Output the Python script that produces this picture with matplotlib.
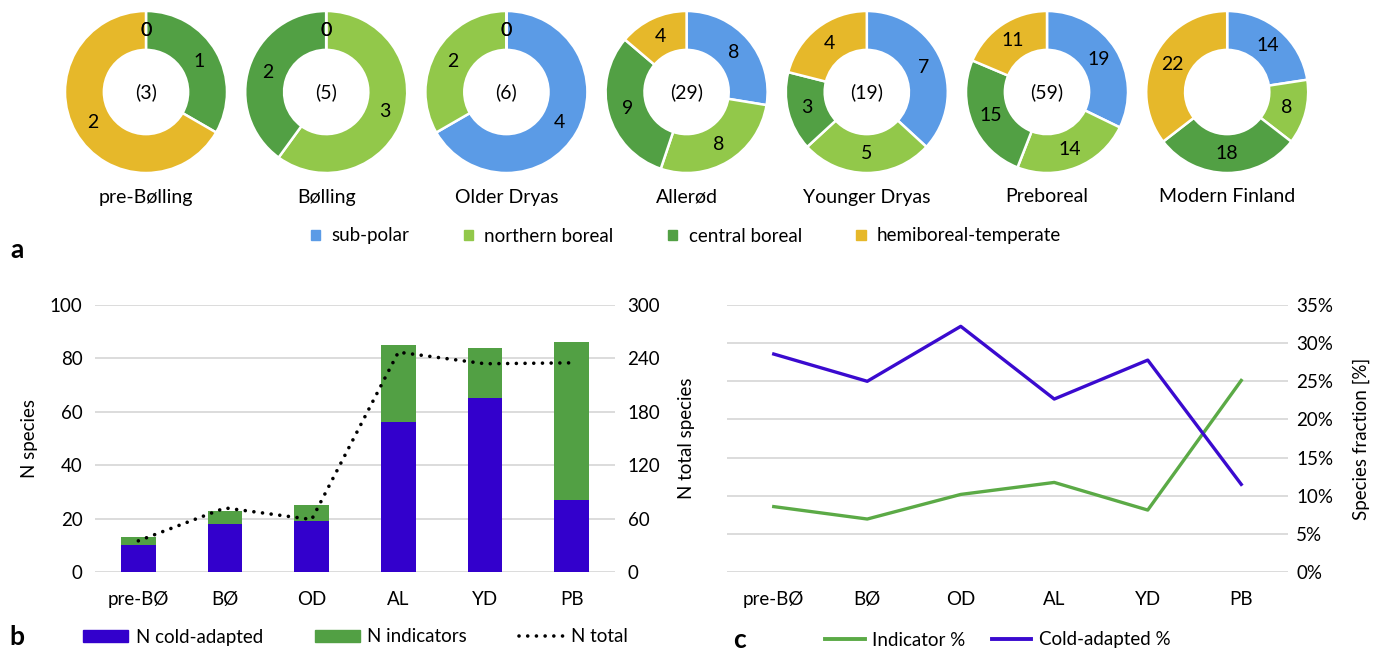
import numpy as np
import matplotlib
matplotlib.use("Agg")
import matplotlib.pyplot as plt
from matplotlib.patches import Patch
from matplotlib.lines import Line2D
from matplotlib.ticker import PercentFormatter

plt.rcParams['font.family'] = ['Lato', 'DejaVu Sans']

# species per vegetation zone for each period
periods = ['pre-Bølling', 'Bølling', 'Older Dryas', 'Allerød', 'Younger Dryas', 'Preboreal', 'Modern Finland']
zones = ['sub-polar', 'northern boreal', 'central boreal', 'hemiboreal-temperate']
sub_polar = [0, 0, 4, 8, 7, 19, 14]
northern_boreal = [0, 3, 2, 8, 5, 14, 8]
central_boreal = [1, 2, 0, 9, 3, 15, 18]
hemiboreal_temperate = [2, 0, 0, 4, 4, 11, 22]

# species counts per period
short_periods = ['pre-BØ', 'BØ', 'OD', 'AL', 'YD', 'PB']
n_cold = [10, 18, 19, 56, 65, 27]
n_indicators = [3, 5, 6, 29, 19, 59]
n_total = [35, 72, 59, 247, 234, 235]

zone_colors = ['#5B9BE6', '#92C84A', '#52A044', '#E6B82A']
COLD = '#3300CC'
IND = '#52A044'
GRID = '#D9D9D9'

W, H = 1379, 654
fig = plt.figure(figsize=(W / 100, H / 100), dpi=100)


def px_axes(x0, y0, x1, y1):
    return fig.add_axes([x0 / W, 1 - y1 / H, (x1 - x0) / W, (y1 - y0) / H])


# --- a: donuts ---
R = 81
cy = 92
for i, name in enumerate(periods):
    cx = 146 + i * 180.2
    ax = px_axes(cx - R, cy - R, cx + R, cy + R)
    vals = [sub_polar[i], northern_boreal[i], central_boreal[i], hemiboreal_temperate[i]]
    wedges, _ = ax.pie(vals, colors=zone_colors, startangle=90, counterclock=False,
                       radius=1, wedgeprops=dict(width=0.48, edgecolor='white', linewidth=1.8))
    ax.set_xlim(-1, 1)
    ax.set_ylim(-1, 1)
    for w, v in zip(wedges, vals):
        ang = np.deg2rad((w.theta1 + w.theta2) / 2)
        ax.text(0.76 * np.cos(ang), 0.76 * np.sin(ang), str(v),
                ha='center', va='center', fontsize=14)
    if i < len(periods) - 1:
        ax.text(0, 0, f'({sum(vals)})', ha='center', va='center', fontsize=14)
    fig.text(cx / W, 1 - 197 / H, name, ha='center', va='center', fontsize=14)

fig.legend(handles=[Patch(color=c) for c in zone_colors], labels=zones,
           loc='center', bbox_to_anchor=(686 / W, 1 - 236 / H), ncol=4, frameon=False,
           handlelength=0.5, handleheight=0.5, handletextpad=0.6, columnspacing=2.9,
           fontsize=13.5)

# --- b: stacked bars with total line ---
x = np.arange(len(short_periods))
axb = px_axes(95, 305, 615, 572)
axb.bar(x, n_cold, width=0.4, color=COLD, zorder=2)
axb.bar(x, n_indicators, bottom=n_cold, width=0.4, color=IND, zorder=2)
axb.set_xlim(-0.5, 5.5)
axb.set_ylim(0, 100)
axb.set_yticks(range(0, 101, 20))
axb.set_xticks(x)
axb.set_xticklabels(short_periods)
axb.grid(axis='y', color=GRID, lw=1.3)
axb.set_axisbelow(True)
for s in axb.spines.values():
    s.set_visible(False)
axb.tick_params(axis='y', length=0, labelsize=13.5, pad=9)
axb.tick_params(axis='x', length=0, labelsize=13.5, pad=14)
axb.set_ylabel('N species', fontsize=13.5)
axb.yaxis.set_label_coords(-0.11, 0.5)

axb2 = axb.twinx()
axb2.plot(x, n_total, color='black', ls=(0, (0.01, 2.4)), lw=2.6,
          dash_capstyle='round', zorder=3)
axb2.set_ylim(0, 300)
axb2.set_yticks(range(0, 301, 60))
for s in axb2.spines.values():
    s.set_visible(False)
axb2.tick_params(axis='y', length=0, labelsize=13.5, pad=9)
axb2.set_ylabel('N total species', fontsize=13.5)
axb2.yaxis.set_label_coords(1.121, 0.5)

fig.legend(handles=[Patch(color=COLD), Patch(color=IND),
                    Line2D([], [], color='black', ls=(0, (0.01, 2.4)), lw=2.6,
                           dash_capstyle='round')],
           labels=['N cold-adapted', 'N indicators', 'N total'],
           loc='center left', bbox_to_anchor=(74 / W, 1 - 637 / H), ncol=3,
           frameon=False, handlelength=2.4, handleheight=0.55, handletextpad=0.4,
           columnspacing=2.75, fontsize=13.5, borderpad=0)

# --- c: fractions ---
ind_pct = [a / t * 100 for a, t in zip(n_indicators, n_total)]
cold_pct = [a / t * 100 for a, t in zip(n_cold, n_total)]

axc = px_axes(727, 305, 1288, 572)
axc.plot(x, ind_pct, color='#5BAA46', lw=2.4, zorder=3)
axc.plot(x, cold_pct, color='#3A0ACF', lw=2.4, zorder=3)
axc.set_xlim(-0.5, 5.5)
axc.set_ylim(0, 35)
axc.set_yticks(range(0, 36, 5))
axc.yaxis.set_major_formatter(PercentFormatter(decimals=0))
axc.yaxis.tick_right()
axc.set_xticks(x)
axc.set_xticklabels(short_periods)
axc.grid(axis='y', color=GRID, lw=1.3)
axc.set_axisbelow(True)
for s in axc.spines.values():
    s.set_visible(False)
axc.tick_params(axis='y', length=0, labelsize=13.5, pad=6)
axc.tick_params(axis='x', length=0, labelsize=13.5, pad=14)
axc.yaxis.set_label_position('right')
axc.set_ylabel('Species fraction [%]', fontsize=13.5)
axc.yaxis.set_label_coords(1.115, 0.5)

fig.legend(handles=[Line2D([], [], color='#5BAA46', lw=2.8),
                    Line2D([], [], color='#3A0ACF', lw=2.8)],
           labels=['Indicator %', 'Cold-adapted %'],
           loc='center left', bbox_to_anchor=(816 / W, 1 - 640 / H), ncol=2,
           frameon=False, handlelength=2.1, handletextpad=0.4,
           columnspacing=1.4, fontsize=13.5, borderpad=0)

# panel letters
for letter, lx, ly in [('a', 17, 250), ('b', 17, 637), ('c', 740, 640)]:
    fig.text(lx / W, 1 - ly / H, letter, fontsize=19, fontweight='bold',
             ha='center', va='center')

fig.savefig('out.png', dpi=100)
